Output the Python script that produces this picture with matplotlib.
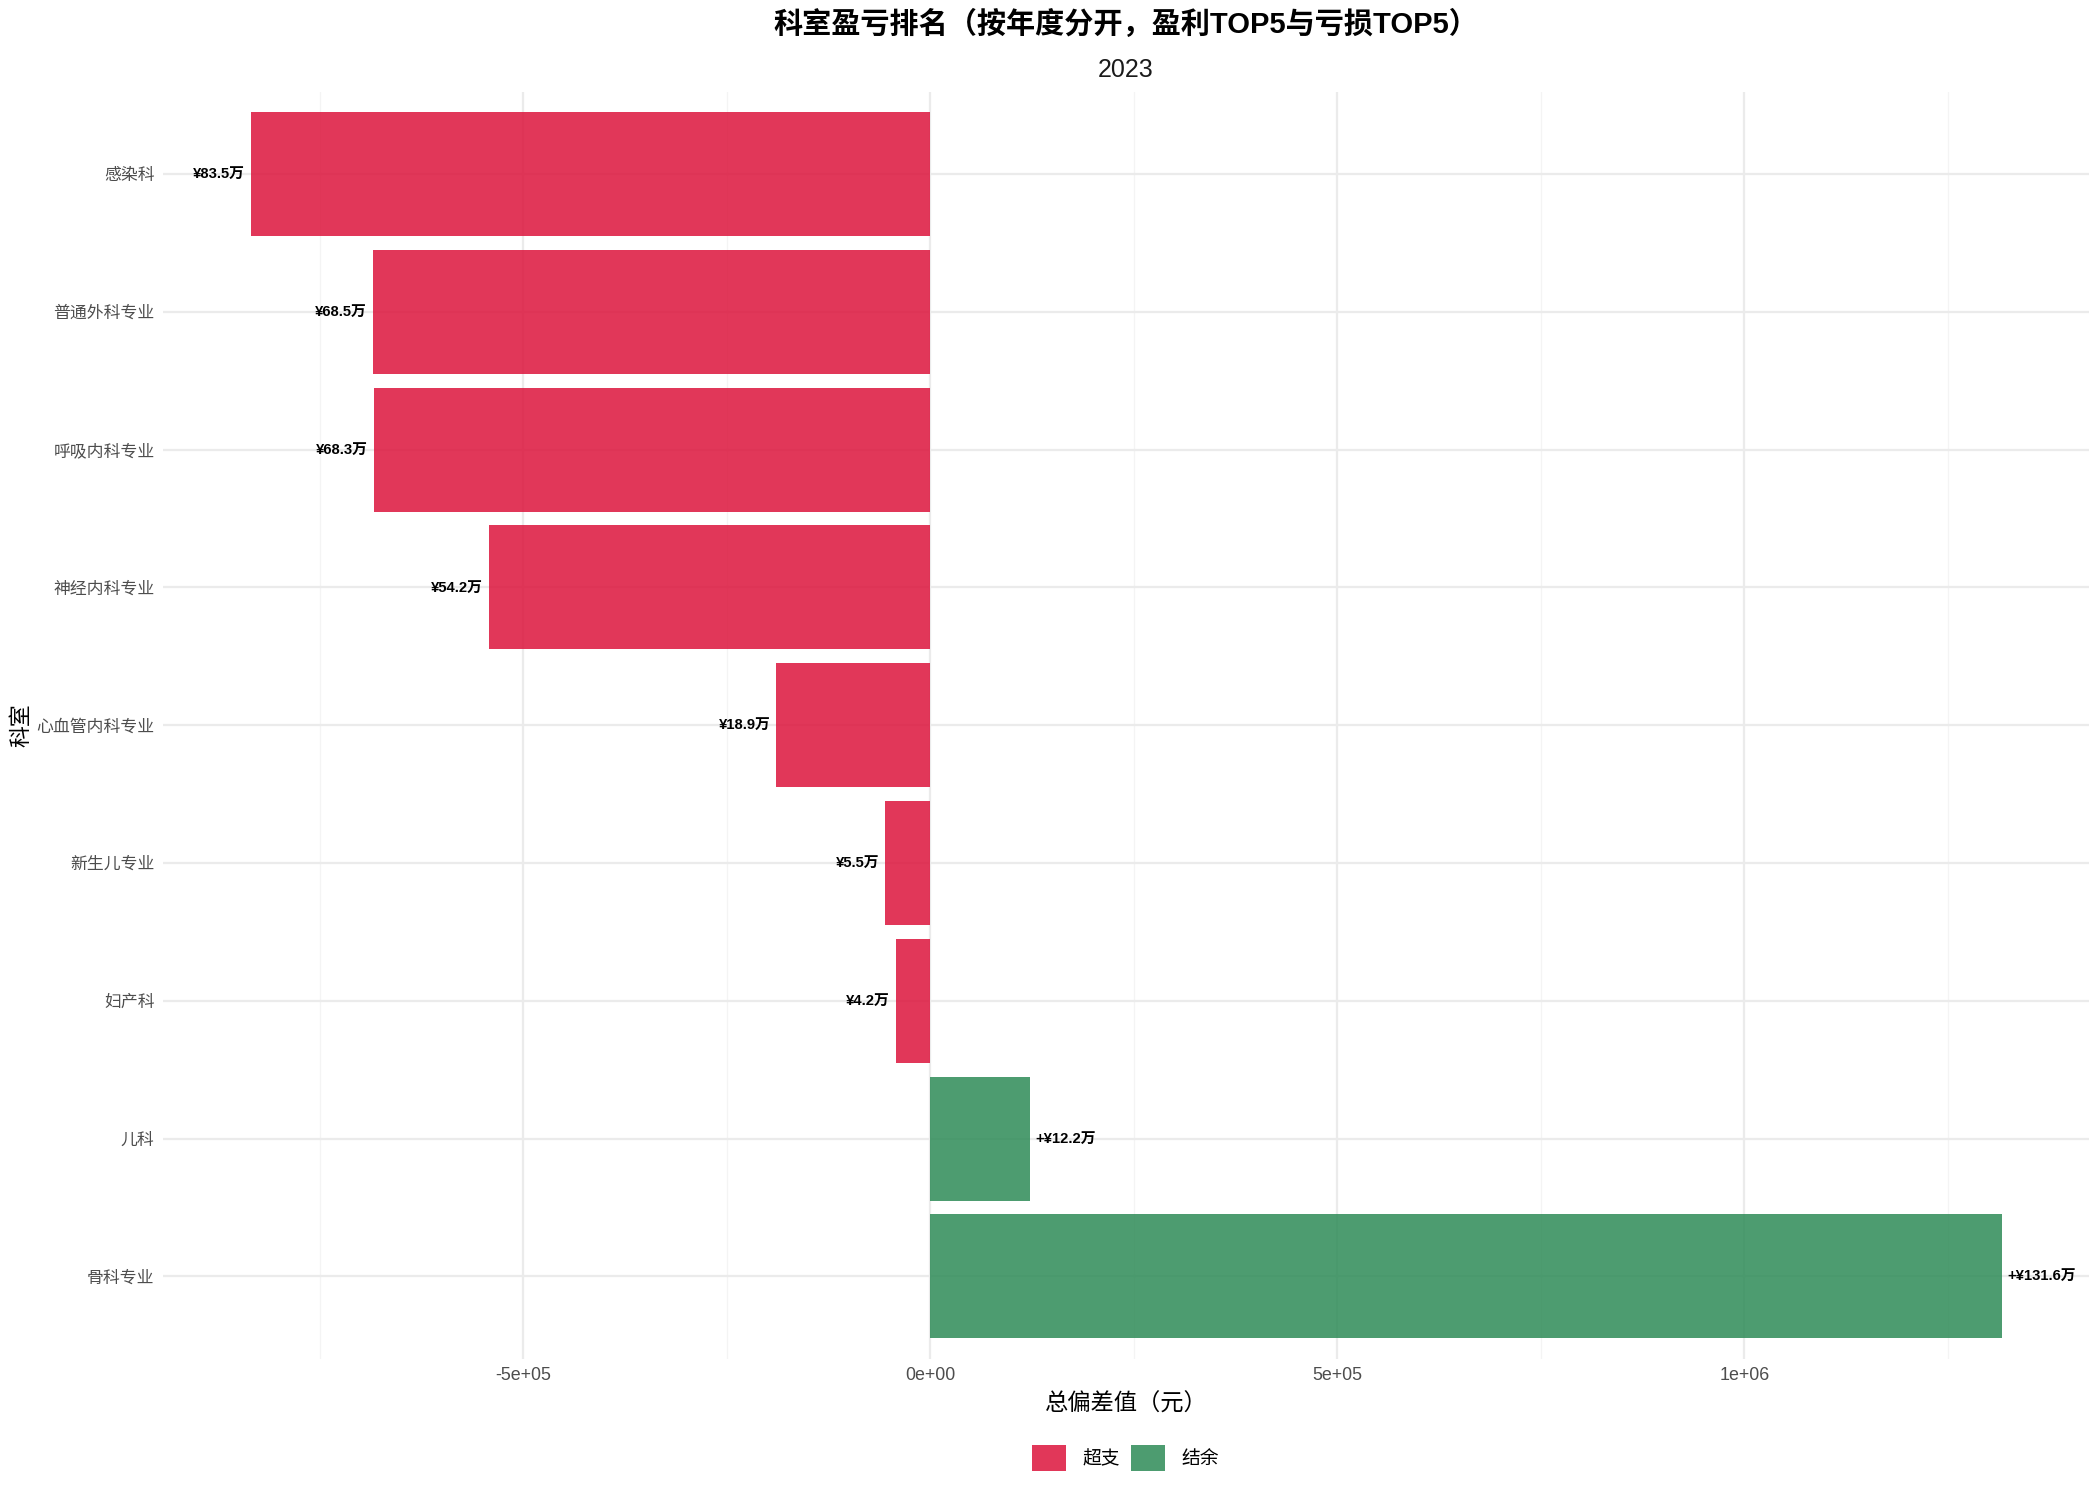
import numpy as np
import matplotlib
matplotlib.use('Agg')
import matplotlib.pyplot as plt
from matplotlib.patches import Patch
from matplotlib.ticker import MultipleLocator, FuncFormatter

plt.rcParams['font.family'] = ['Liberation Sans', 'Noto Sans CJK SC', 'DejaVu Sans']

# data (top to bottom as shown)
depts = ['感染科', '普通外科专业', '呼吸内科专业', '神经内科专业', '心血管内科专业',
         '新生儿专业', '妇产科', '儿科', '骨科专业']
diffs = [-835000, -685000, -683000, -542000, -189000, -55000, -42000, 122000, 1316000]
year = '2023'
legend_labels = ['超支', '结余']

red = '#DC143C'
green = '#2E8B57'

fig = plt.figure(figsize=(14, 10), dpi=150)
ax = fig.add_axes([0.0776, 0.094, 0.9172, 0.845])

colors = [red if v < 0 else green for v in diffs]
ax.barh(depts, diffs, height=0.9, color=colors, alpha=0.85, zorder=2)

for i, v in enumerate(diffs):
    if v < 0:
        txt = f'¥{abs(v)/1e4:.1f}万'
        ax.annotate(txt, (v, i), xytext=(-3, 0), textcoords='offset points',
                    ha='right', va='center', fontsize=7.1, fontweight='bold', zorder=3)
    else:
        txt = f'+¥{v/1e4:.1f}万'
        ax.annotate(txt, (v, i), xytext=(3, 0), textcoords='offset points',
                    ha='left', va='center', fontsize=7.1, fontweight='bold', zorder=3)

lo, hi = min(diffs), max(diffs)
pad = (hi - lo) * 0.05
ax.set_xlim(lo - pad, hi + pad)
ax.set_ylim(len(depts) - 0.4, -0.6)

ax.xaxis.set_major_locator(MultipleLocator(500000))
ax.xaxis.set_minor_locator(MultipleLocator(250000))

def sci(x, pos):
    if x == 0:
        return '0e+00'
    return f'{x:.0e}'
ax.xaxis.set_major_formatter(FuncFormatter(sci))

ax.grid(which='major', color='#EBEBEB', linewidth=1.1, zorder=0)
ax.grid(which='minor', axis='x', color='#F4F4F4', linewidth=0.6, zorder=0)
ax.set_axisbelow(True)
for s in ax.spines.values():
    s.set_visible(False)
ax.tick_params(which='both', length=0, labelcolor='#4D4D4D', pad=4)
ax.tick_params(axis='y', labelsize=8.1)
ax.tick_params(axis='x', labelsize=8.6)

ax.set_xlabel('总偏差值（元）', fontsize=11.2, labelpad=4)
ax.set_ylabel('科室', fontsize=10.5, labelpad=2)
ax.yaxis.set_label_coords(-0.068, 0.5)

fig.text(0.536, 0.984, '科室盈亏排名（按年度分开，盈利TOP5与亏损TOP5）',
         ha='center', va='center', fontsize=14, fontweight='bold')
ax.set_title(year, fontsize=12, pad=7, color='#1A1A1A')

handles = [Patch(facecolor=red, alpha=0.85), Patch(facecolor=green, alpha=0.85)]
fig.legend(handles, legend_labels, loc='center', bbox_to_anchor=(0.536, 0.028),
           ncol=2, frameon=False, fontsize=9, handlelength=1.8, handleheight=1.8,
           handletextpad=0.9, columnspacing=0.6)

fig.savefig('out.png', dpi=150)
